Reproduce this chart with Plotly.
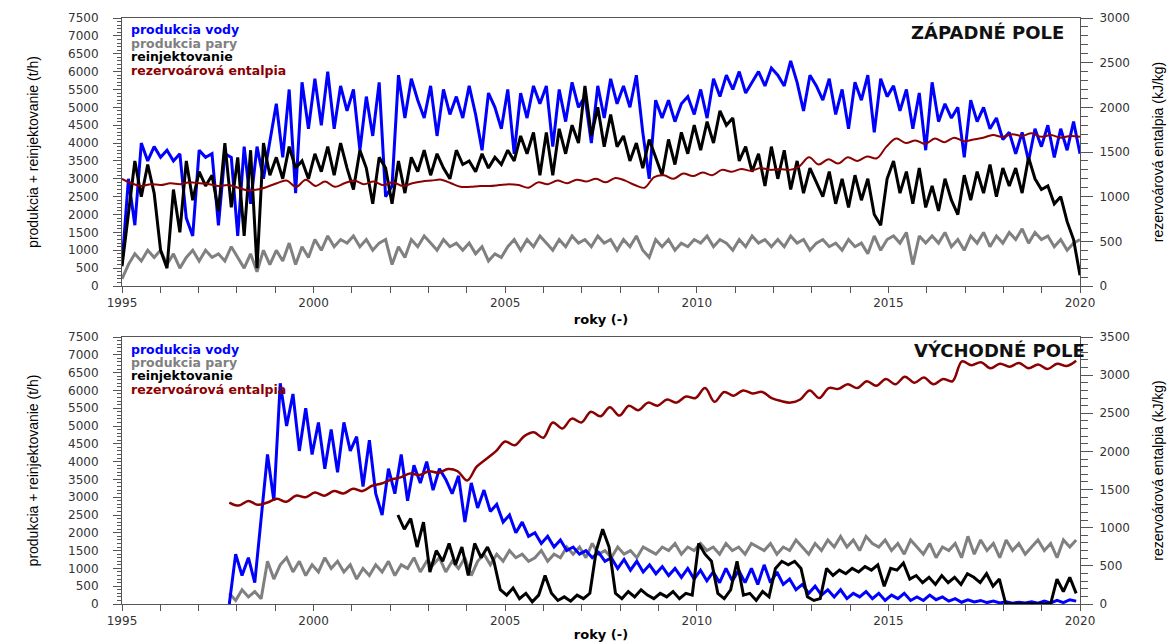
import numpy as np
import plotly.graph_objects as go
from plotly.subplots import make_subplots

# ---------------- ZAPADNE POLE (top), values every 2 months 1995-2020 ----------------
west_voda = [
    600, 3000, 1700, 4000, 3500, 3900,
    3600, 3800, 3500, 3700, 1900, 1400,
    3800, 3600, 3700, 1700, 3700, 3600,
    1400, 3900, 2300, 3900, 3000, 4000,
    5100, 3600, 5500, 2600, 5700, 4400,
    5800, 4500, 6000, 4400, 5600, 4900,
    5500, 3800, 5300, 4200, 5700, 2500,
    2800, 5900, 4700, 5800, 5200, 4700,
    5600, 4200, 5500, 4800, 5300, 4700,
    5600, 4800, 3800, 5400, 5000, 4400,
    5500, 3700, 5400, 4700, 5600, 5100,
    5600, 3900, 5500, 4600, 5700, 5000,
    5300, 4000, 5600, 4700, 5800, 5100,
    5600, 5000, 5900, 4300, 3000, 5200,
    4700, 5200, 4600, 5100, 5300, 4800,
    5500, 4700, 5800, 5300, 5900, 5500,
    6000, 5400, 5700, 6000, 5600, 6100,
    5900, 5600, 6300, 5700, 4900, 5900,
    5600, 5200, 5800, 4800, 5500, 4400,
    5700, 5200, 5900, 4300, 5800, 5300,
    5600, 4900, 5500, 4400, 5400, 3800,
    5700, 4600, 5100, 4700, 5000, 3600,
    5200, 4600, 5000, 4400, 4700, 4100,
    4300, 3700, 4300, 3500, 4400, 3900,
    4500, 3600, 4400, 3800, 4600, 3700,
]
west_para = [
    200, 600, 900, 700, 1000, 800,
    1000, 600, 900, 500, 800, 1000,
    700, 1000, 800, 900, 700, 1100,
    800, 500, 900, 400, 1000, 600,
    1000, 700, 1200, 600, 1100, 800,
    1300, 1000, 1400, 1100, 1300, 1200,
    1400, 1100, 1300, 1000, 1200, 1300,
    600, 1100, 800, 1300, 1100, 1400,
    1200, 1000, 1300, 1100, 1200, 1000,
    1200, 900, 1100, 700, 900, 800,
    1100, 1300, 1000, 1300, 1100, 1400,
    1200, 1000, 1300, 1100, 1400, 1200,
    1300, 1100, 1400, 1200, 1300, 1000,
    1300, 1100, 1400, 1000, 800, 1300,
    1100, 1300, 1000, 1200, 1100, 1300,
    1200, 1400, 1100, 1300, 1200, 1000,
    1300, 1100, 1400, 1200, 1300, 1100,
    1300, 1100, 1400, 1200, 1300, 1000,
    1200, 1300, 1100, 1200, 1000, 1300,
    1100, 1200, 900, 1400, 1000, 1300,
    1400, 1200, 1500, 600, 1400, 1200,
    1400, 1200, 1500, 1100, 1300, 1000,
    1400, 1200, 1500, 1100, 1400, 1200,
    1500, 1300, 1600, 1200, 1500, 1300,
    1400, 1100, 1300, 1000, 1200, 1300,
]
west_reinj = [
    550, 2000, 3500, 2500, 3400, 2600,
    1000, 500, 2700, 1500, 3500, 2400,
    3200, 2800, 3100, 2100, 4000, 2200,
    3600, 1400, 3800, 500, 4000, 3100,
    3600, 3000, 3900, 3300, 3500, 3000,
    3700, 3200, 3900, 3100, 4000, 3300,
    2700, 3800, 3300, 2300, 3600, 3300,
    2300, 3500, 2600, 3600, 3200, 3800,
    3100, 3700, 3300, 3000, 3800, 3400,
    3500, 3200, 3700, 3300, 3600, 3400,
    3800, 3500, 4200, 3700, 4300, 3100,
    4300, 3100, 4400, 3700, 4500, 4000,
    5600, 4200, 5000, 3900, 4800, 3900,
    4200, 3500, 4000, 3300, 4100, 3600,
    3100, 4100, 3400, 4300, 3700, 4500,
    3800, 4600, 4000, 4900, 4500, 4700,
    3500, 3900, 3200, 3700, 2800, 3900,
    3000, 3800, 2700, 3500, 2600, 3300,
    2900, 2500, 3200, 2300, 3000, 2200,
    3100, 2400, 3000, 2000, 1700, 3000,
    3500, 2600, 3200, 2300, 3300, 2200,
    2800, 2100, 3000, 2400, 2000, 3100,
    2400, 3200, 2600, 3400, 2500, 3300,
    2800, 3300, 2600, 3600, 3000, 2700,
    2800, 2300, 2500, 1800, 1300, 300,
]
# quarterly reservoir enthalpy (kJ/kg)
west_entalpia = [
    1200, 1150, 1120, 1140,
    1130, 1150, 1140, 1160,
    1150, 1140, 1120, 1130,
    1100, 1070, 1080, 1110,
    1150, 1180, 1110, 1190,
    1120, 1170, 1110, 1150,
    1180, 1140, 1170, 1130,
    1160, 1120, 1150, 1170,
    1180, 1190, 1150, 1110,
    1110, 1120, 1120, 1130,
    1140, 1130, 1100, 1160,
    1140, 1180, 1150, 1190,
    1170, 1200, 1160, 1210,
    1180, 1130, 1100, 1220,
    1240, 1200, 1260, 1230,
    1270, 1240, 1300, 1280,
    1310, 1290, 1320, 1300,
    1310, 1300, 1340, 1440,
    1360, 1420, 1370, 1440,
    1400, 1450, 1430, 1560,
    1650, 1600, 1630, 1590,
    1650, 1610, 1660, 1620,
    1640, 1660, 1690, 1670,
    1700, 1680, 1710, 1670,
    1690, 1660, 1680, 1670,
]

# ---------------- VYCHODNE POLE (bottom) ----------------
east_voda = [  # from late 1997, every 2 months
    0, 1400, 800, 1300, 600, 2300,
    4200, 2900, 6200, 5000, 5900, 4300,
    5500, 4200, 5100, 3800, 4900, 3700,
    5100, 4300, 4700, 3300, 4600, 3100,
    2500, 3800, 3100, 4200, 2900, 3900,
    3400, 4000, 3200, 3800, 3500, 3100,
    3600, 2300, 3400, 2700, 3200, 2600,
    2800, 2300, 2500, 2000, 2300, 1900,
    2000, 1700, 1900, 1600, 1800, 1500,
    1600, 1400, 1500, 1300, 1450, 1200,
    1300, 1000, 1250, 950, 1200, 900,
    1100, 850, 1050, 800, 1000, 750,
    1000, 700, 950, 650, 900, 600,
    1000, 650, 950, 600, 1000, 550,
    1100, 600, 900, 550, 700, 400,
    550, 300, 500, 250, 400, 200,
    400, 150, 300, 200, 350, 150,
    300, 100, 250, 150, 300, 100,
    200, 100, 250, 120, 200, 80,
    150, 50, 120, 60, 100, 40,
    80, 30, 60, 20, 50, 30,
    60, 20, 80, 30, 100, 40,
    120, 80,
]
east_para = [
    300, 100, 400, 200, 350, 150,
    1200, 700, 1100, 1300, 900, 1200,
    800, 1100, 900, 1300, 1000, 1200,
    900, 1100, 700, 1000, 800, 1100,
    900, 1200, 800, 1100, 1000, 1300,
    900, 1200, 1100, 1300, 900, 1200,
    1000, 1300, 800, 1200, 1400, 1100,
    1400, 1200, 1500, 1300, 1400, 1200,
    1300, 1500, 1200, 1400, 1300, 1600,
    1400, 1600, 1300, 1700, 1400, 1500,
    1300, 1600, 1400, 1500, 1300, 1600,
    1500, 1400, 1600, 1500, 1700, 1400,
    1600, 1500, 1700, 1500, 1600, 1400,
    1700, 1500, 1600, 1400, 1700, 1600,
    1500, 1700, 1400, 1600, 1500, 1800,
    1600, 1400, 1700, 1500, 1800, 1600,
    1900, 1600, 1800, 1500, 1900, 1700,
    1600, 1800, 1500, 1700, 1400, 1800,
    1600, 1400, 1700, 1300, 1600, 1500,
    1700, 1300, 1900, 1400, 1800, 1500,
    1700, 1300, 1800, 1500, 1700, 1400,
    1600, 1800, 1500, 1700, 1300, 1800,
    1600, 1800,
]
east_reinj = [  # from 2002, every 2 months
    2500, 2100, 2400, 1600, 2300, 900,
    1500, 1200, 1700, 1100, 1600, 800,
    1700, 1300, 1600, 1200, 400, 250,
    450, 150, 300, 60, 250, 800,
    300, 100, 200, 80, 250, 150,
    300, 1500, 2100, 1600, 300, 150,
    350, 200, 400, 250, 150, 300,
    200, 350, 150, 300, 250, 1700,
    1400, 1200, 300, 150, 400, 1200,
    250, 300, 100, 350, 200, 1000,
    1200, 1100, 1200, 1000, 200, 100,
    150, 1000, 800, 950, 850, 1000,
    900, 1050, 950, 1100, 500, 1000,
    950, 1150, 700, 800, 600, 750,
    550, 800, 600, 750, 550, 850,
    750, 600, 850, 500, 700, 0,
    0, 0, 0, 0, 0, 0,
    0, 700, 350, 750, 300,
]
east_entalpia = [  # quarterly from late 1997
    1330, 1290, 1350, 1300,
    1330, 1380, 1340, 1420,
    1400, 1460, 1420, 1480,
    1450, 1510, 1480, 1550,
    1580, 1630, 1660, 1710,
    1690, 1740, 1720, 1770,
    1740, 1620, 1800, 1900,
    2000, 2130, 2080, 2200,
    2250, 2180, 2380, 2300,
    2430, 2380, 2520, 2460,
    2580, 2470, 2600, 2540,
    2640, 2600, 2680, 2640,
    2720, 2700, 2830, 2650,
    2780, 2730, 2800, 2760,
    2780, 2700, 2660, 2640,
    2680, 2800, 2700, 2830,
    2820, 2880, 2830, 2920,
    2860, 2950, 2880, 2980,
    2900, 2970, 2880, 2950,
    2920, 3180, 3130, 3170,
    3090, 3150, 3110, 3160,
    3090, 3140, 3080, 3150,
    3120, 3190,
]

BLUE = "#0000ff"
GRAY = "#808080"
BLACK = "#000000"
RED = "#8b0000"

fig = make_subplots(rows=2, cols=1, specs=[[{"secondary_y": True}], [{"secondary_y": True}]])


def add_panel(row, voda, x_voda, para, x_para, reinj, x_reinj, ent, x_ent, red_w):
    fig.add_trace(go.Scatter(x=x_para, y=para, mode="lines", line=dict(color=GRAY, width=3),
                             showlegend=False), row=row, col=1, secondary_y=False)
    fig.add_trace(go.Scatter(x=x_voda, y=voda, mode="lines", line=dict(color=BLUE, width=3),
                             showlegend=False), row=row, col=1, secondary_y=False)
    fig.add_trace(go.Scatter(x=x_reinj, y=reinj, mode="lines", line=dict(color=BLACK, width=3),
                             showlegend=False), row=row, col=1, secondary_y=False)
    fig.add_trace(go.Scatter(x=x_ent, y=ent, mode="lines",
                             line=dict(color=RED, width=red_w, shape="spline", smoothing=1),
                             showlegend=False), row=row, col=1, secondary_y=True)


add_panel(1,
          west_voda, np.linspace(1995, 2020, len(west_voda)),
          west_para, np.linspace(1995, 2020, len(west_para)),
          west_reinj, np.linspace(1995, 2020, len(west_reinj)),
          west_entalpia, np.linspace(1995, 2020, len(west_entalpia)), 2)
add_panel(2,
          east_voda, np.linspace(1997.8, 2019.9, len(east_voda)),
          east_para, np.linspace(1997.8, 2019.9, len(east_para)),
          east_reinj, np.linspace(2002.2, 2019.9, len(east_reinj)),
          east_entalpia, np.linspace(1997.8, 2019.9, len(east_entalpia)), 2.5)

# pixel helpers (plot area 122..1080 x, 18..604 y)
def px(x):
    return (x - 122) / 958


def py(y):
    return (604 - y) / 586


top_dom = [py(286), 1]
bot_dom = [0, py(337)]

tickfont = dict(family="DejaVu Sans", size=12, color="#333333")
narrow = dict(family="Liberation Sans", size=14, color="#000000")
axcol = "#555555"

xax = dict(range=[1995, 2020], tick0=1995, dtick=5, ticks="outside", ticklen=6,
           tickcolor=axcol, showline=True, linecolor=axcol, mirror=True, showgrid=False,
           zeroline=False, tickfont=tickfont, automargin=False,
           minor=dict(dtick=1, ticks="outside", ticklen=6, tickcolor=axcol),
           title=dict(text="<b>roky (-)</b>", standoff=5,
                      font=dict(family="DejaVu Sans", size=13, color="#000000")))
yl = dict(range=[0, 7500], dtick=500, ticks="outside", ticklen=8, tickcolor=axcol,
          showline=True, linecolor=axcol, showgrid=False, zeroline=False, tickfont=tickfont,
          automargin=False, ticklabelstandoff=12,
          minor=dict(dtick=100, ticks="outside", ticklen=4, tickcolor=axcol),
          title=dict(text="produkcia + reinjektovanie (t/h)", font=narrow, standoff=26))
yr = dict(dtick=500, ticks="outside", ticklen=12, tickcolor=axcol,
          showline=True, linecolor=axcol, showgrid=False, zeroline=False, tickfont=tickfont,
          automargin=False, ticklabelstandoff=4,
          minor=dict(dtick=100, ticks="outside", ticklen=7, tickcolor=axcol),
          title=dict(text="rezervoárová entalpia (kJ/kg)", font=narrow, standoff=24))

fig.update_layout(
    width=1175, height=642,
    margin=dict(l=122, r=95, t=18, b=38, autoexpand=False),
    paper_bgcolor="white", plot_bgcolor="white",
    xaxis=dict(xax, domain=[0, 1], anchor="y"),
    xaxis2=dict(xax, domain=[0, 1], anchor="y3"),
    yaxis=dict(yl, domain=top_dom),
    yaxis2=dict(yr, range=[0, 3000], domain=top_dom),
    yaxis3=dict(yl, domain=bot_dom),
    yaxis4=dict(yr, range=[0, 3500], domain=bot_dom),
)

legend_items = [("produkcia vody", BLUE), ("produkcia pary", GRAY),
                ("reinjektovanie", BLACK), ("rezervoárová entalpia", RED)]
for y0 in (30, 349):
    for i, (txt, col) in enumerate(legend_items):
        fig.add_annotation(xref="paper", yref="paper", x=px(130), y=py(y0 + i * 13.4),
                           xanchor="left", yanchor="middle", showarrow=False,
                           text="<b>" + txt + "</b>", borderpad=0,
                           font=dict(family="DejaVu Sans", size=12.5, color=col))

fig.add_annotation(xref="paper", yref="paper", x=px(1066), y=py(32), xanchor="right",
                   yanchor="middle", showarrow=False, text="<b>ZÁPADNÉ POLE</b>",
                   font=dict(family="DejaVu Sans", size=18, color="#111111"))
fig.add_annotation(xref="paper", yref="paper", x=px(1087), y=py(350), xanchor="right",
                   yanchor="middle", showarrow=False, text="<b>VÝCHODNÉ POLE</b>",
                   font=dict(family="DejaVu Sans", size=18, color="#111111"))

# drop the default page margin so the figure sits at the window's corner
fig.write_html("out.html", config={"displayModeBar": False},
               post_script="document.body.style.margin='0';")
